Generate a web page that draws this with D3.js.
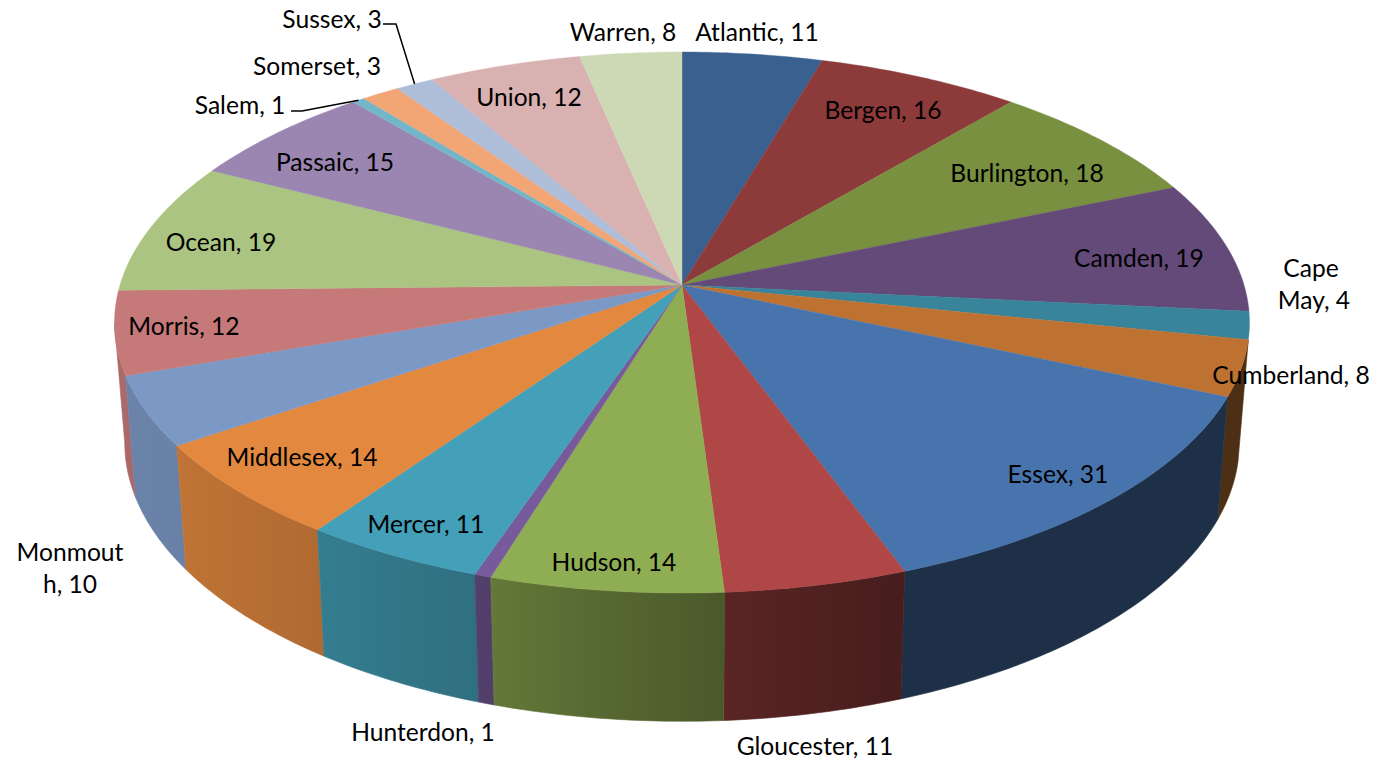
<!DOCTYPE html>
<html><head><meta charset="utf-8">
<style>html,body{margin:0;padding:0;background:#fff}svg{display:block}text{font-family:Lato,"Open Sans",sans-serif;font-size:24.6px;fill:#000}</style>
<script src="https://cdn.jsdelivr.net/npm/d3@7"></script>
</head><body><svg id="c" width="1374" height="761"></svg>
<script>
const categories = ["Atlantic","Bergen","Burlington","Camden","Cape May","Cumberland","Essex","Gloucester","Hudson","Hunterdon","Mercer","Middlesex","Monmouth","Morris","Ocean","Passaic","Salem","Somerset","Sussex","Union","Warren"];
const values = [11,16,18,19,4,8,31,11,14,1,11,14,10,12,19,15,1,3,3,12,8];
const colors = ["#3a6090","#8d3a3a","#78903f","#634a78","#37849b","#bd7232","#4874ad","#ae4746","#8fad52","#775a9b","#43a0b8","#e2883f","#7c98c4","#c67979","#abc482","#9a86b0","#74b6c9","#f3a675","#aebed9","#d9b1b1","#cdd8b5"];

// label layout: text centre in page pixels, independent of the data
const labelLayout = {
 "Atlantic":[[757,31]],"Bergen":[[883,109]],"Burlington":[[1027,172]],"Camden":[[1139,257]],
 "Cape May":[[1311,267],[1314,299]],"Cumberland":[[1291,374]],"Essex":[[1058,473]],"Gloucester":[[815,745]],
 "Hudson":[[614,561]],"Hunterdon":[[423,731]],"Mercer":[[426,523]],"Middlesex":[[302,456]],
 "Monmouth":[[70,551],[70,583]],"Morris":[[184,325]],"Ocean":[[221,241]],"Passaic":[[335,161]],
 "Salem":[[240,104]],"Somerset":[[317,65]],"Sussex":[[332,18]],"Union":[[529,96]],"Warren":[[623,31]]
};
const labelBreaks = {"Cape May":["Cape","May, {v}"],"Monmouth":["Monmout","h, {v}"]};
const leaderLayout = {"Sussex":[[383,24],[396,24]],"Salem":[[291,111],[302,111]]};

const rows = categories.map((name,i)=>({name,value:values[i],color:colors[i]}));

const cx=682, cy=285, persp=0.1387, rx=562, ry=265.3;
const wallX=0.982, wallDrop=119, wallY=1.03;
// visible part of the outer wall, clockwise from the top (radians)
const wallFrom=Math.PI*0.565, wallTo=Math.PI*1.4555;
// lighting of the outer wall by angle (degrees clockwise from top)
const shade=d3.scaleLinear().domain([90,160,177,197,215,236,270]).range([.41,.41,.52,.69,.78,.85,.88]).clamp(true);

function topPt(a){const w=1+persp*Math.cos(a);return [cx+rx*Math.sin(a)/w, cy-ry*Math.cos(a)/w];}
function bottomPt(a){const [x,y]=topPt(a);return [cx+wallX*(x-cx), cy+wallDrop+wallY*(y-cy)];}
function scaleColor(c,f){const r=d3.rgb(c);return d3.rgb(r.r*f,r.g*f,r.b*f).formatHex();}

const arcs=d3.pie().sort(null).value(d=>d.value)(rows);
const svg=d3.select("#c");
const defs=svg.append("defs");
const line=d3.line();
const STEP=Math.PI/180*0.75;

// side walls, drawn from the sides toward the front, each with a horizontal light gradient
const walls=[];
arcs.forEach((s,idx)=>{
  const lo=Math.max(s.startAngle,wallFrom), hi=Math.min(s.endAngle,wallTo);
  if(hi>lo) walls.push({lo,hi,idx,color:s.data.color});
});
walls.sort((p,q)=>Math.cos((p.lo+p.hi)/2)>Math.cos((q.lo+q.hi)/2)?-1:1);
walls.forEach(w=>{
  const g=defs.append("linearGradient").attr("id","wall"+w.idx).attr("gradientUnits","userSpaceOnUse")
    .attr("x1",topPt(w.lo)[0]).attr("x2",topPt(w.hi)[0]).attr("y1",0).attr("y2",0);
  d3.range(7).forEach(i=>{
    const t=i/6;
    g.append("stop").attr("offset",t).attr("stop-color",scaleColor(w.color,shade((w.lo+(w.hi-w.lo)*t)*180/Math.PI)));
  });
});
svg.append("g").selectAll("path").data(walls).join("path")
  .attr("d",w=>{
    const n=Math.max(2,Math.ceil((w.hi-w.lo)/STEP));
    const ts=d3.range(n+1).map(i=>w.lo+(w.hi-w.lo)*i/n);
    return line([...ts.map(topPt),...ts.slice().reverse().map(bottomPt)])+"Z";
  })
  .attr("fill",w=>`url(#wall${w.idx})`)
  .attr("stroke",w=>`url(#wall${w.idx})`).attr("stroke-width",0.6);

// top face slices
svg.append("g").selectAll("path").data(arcs).join("path")
  .attr("d",s=>{
    const n=Math.max(2,Math.ceil((s.endAngle-s.startAngle)/STEP));
    const pts=d3.range(n+1).map(i=>topPt(s.startAngle+(s.endAngle-s.startAngle)*i/n));
    return line([[cx,cy],...pts])+"Z";
  })
  .attr("fill",s=>s.data.color).attr("stroke",s=>s.data.color).attr("stroke-width",0.4);

// leader lines end on the slice's own rim
const leaders=arcs.filter(s=>leaderLayout[s.data.name]);
svg.append("g").selectAll("path").data(leaders).join("path")
  .attr("d",s=>line([...leaderLayout[s.data.name],topPt((s.startAngle+s.endAngle)/2)]))
  .attr("fill","none").attr("stroke","#000").attr("stroke-width",1.5);

// data labels
const lab=[];
arcs.forEach(s=>{
  const nm=s.data.name,pos=labelLayout[nm];
  const txt=labelBreaks[nm]?labelBreaks[nm].map(t=>t.replace("{v}",s.data.value)):[nm+", "+s.data.value];
  txt.forEach((t,i)=>lab.push({t,p:pos[i]}));
});
svg.append("g").selectAll("text").data(lab).join("text")
  .attr("x",d=>d.p[0]).attr("y",d=>d.p[1]).attr("text-anchor","middle").attr("dominant-baseline","central")
  .text(d=>d.t);
</script></body></html>
